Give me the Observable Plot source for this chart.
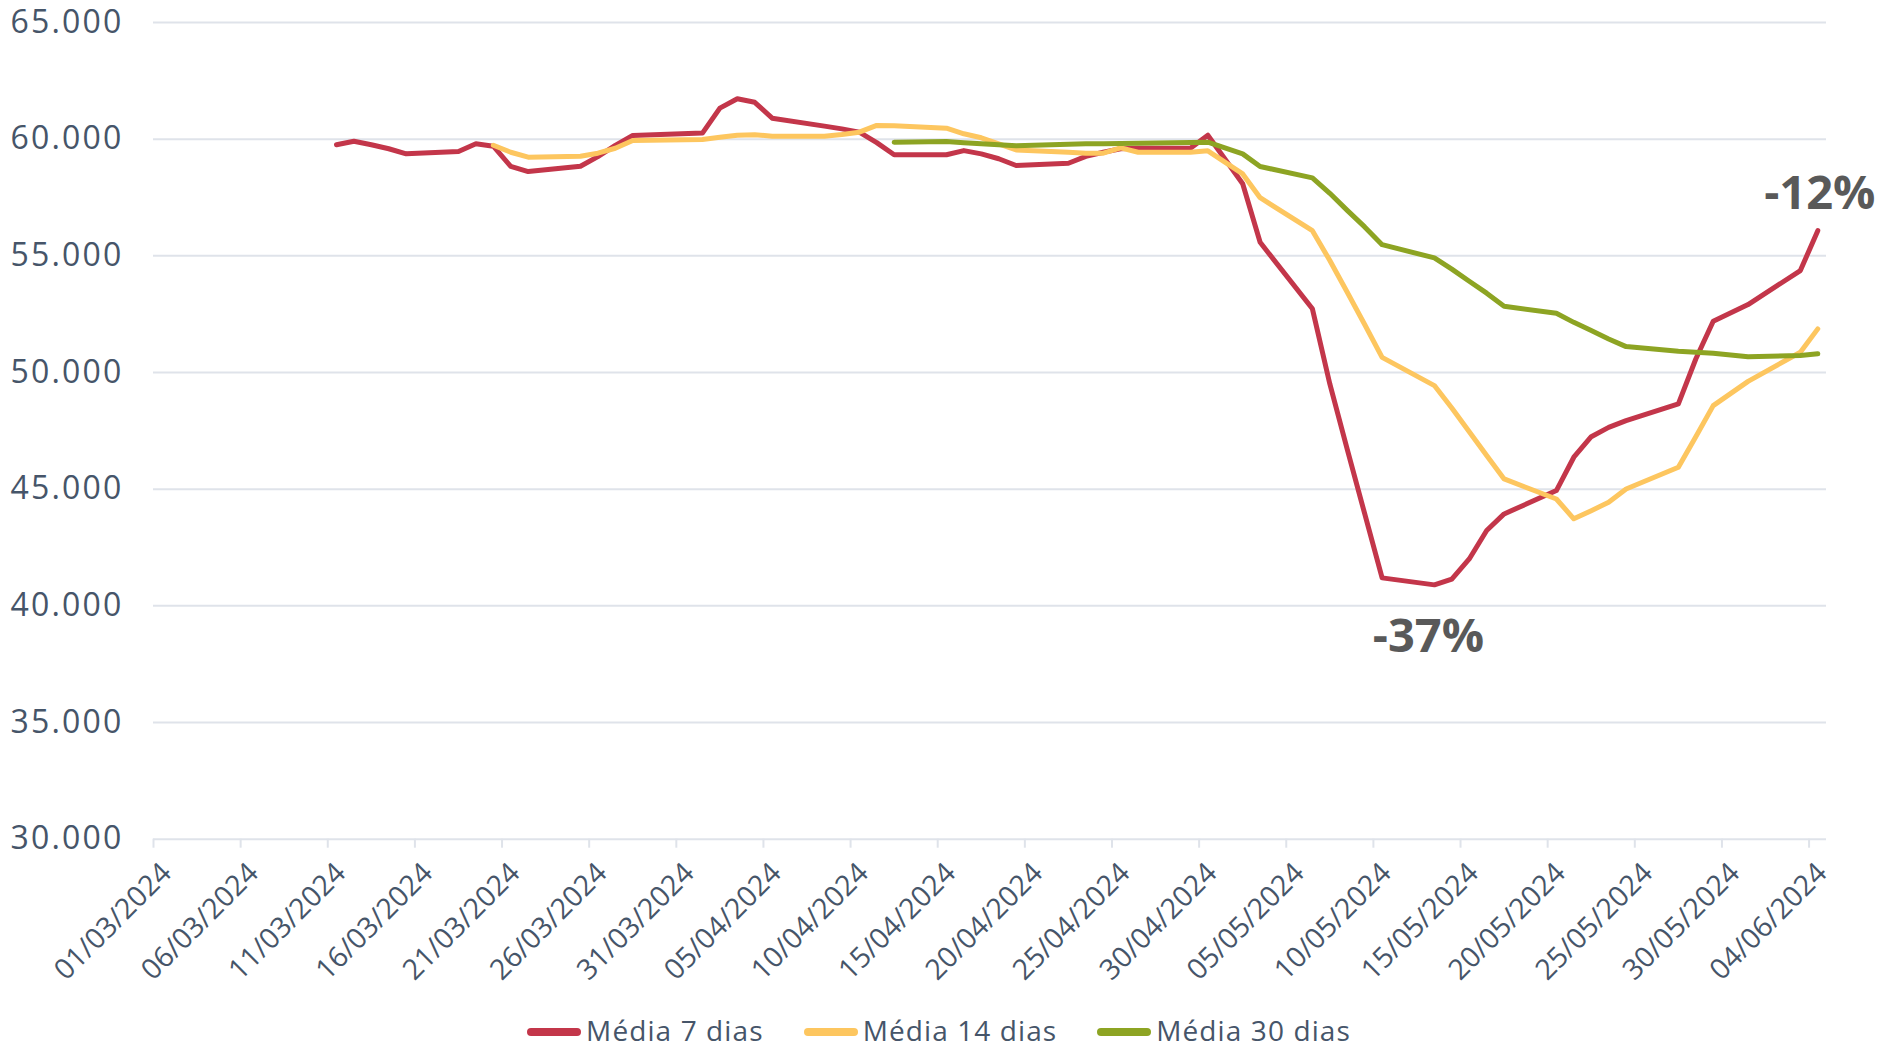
<!DOCTYPE html>
<html>
<head>
<meta charset="utf-8">
<script src="https://cdn.jsdelivr.net/npm/d3@7"></script>
<script src="https://cdn.jsdelivr.net/npm/@observablehq/plot@0.6"></script>
<style>
  html, body { margin: 0; padding: 0; background: #ffffff; }
  #chart { position: absolute; left: 0; top: 0; }
  #chart g[aria-label="y-axis tick label"] text { letter-spacing: 2.2px; }
  #legend {
    position: absolute; left: 0; top: 1011px; width: 1878px; height: 38px;
    display: flex; justify-content: center; align-items: center; gap: 40px;
    font-family: "Open Sans", sans-serif; font-size: 28px; line-height: 38px;
    letter-spacing: 1.1px; color: #465569;
  }
  .item { display: flex; align-items: center; height: 38px; }
  .sw { width: 54px; height: 8px; border-radius: 4px; margin-right: 5px; margin-top: 4px; }
</style>
</head>
<body>
<div id="chart"></div>
<div id="legend"></div>
<script>
// ---- data (business days) ----
const dates = [
  "11/03/2024","12/03/2024","13/03/2024","14/03/2024","15/03/2024",
  "18/03/2024","19/03/2024","20/03/2024","21/03/2024","22/03/2024",
  "25/03/2024","26/03/2024","27/03/2024","28/03/2024",
  "01/04/2024","02/04/2024","03/04/2024","04/04/2024","05/04/2024",
  "08/04/2024","09/04/2024","10/04/2024","11/04/2024","12/04/2024",
  "15/04/2024","16/04/2024","17/04/2024","18/04/2024","19/04/2024",
  "22/04/2024","23/04/2024","24/04/2024","25/04/2024","26/04/2024",
  "29/04/2024","30/04/2024","02/05/2024","03/05/2024",
  "06/05/2024","07/05/2024","08/05/2024","09/05/2024","10/05/2024",
  "13/05/2024","14/05/2024","15/05/2024","16/05/2024","17/05/2024",
  "20/05/2024","21/05/2024","22/05/2024","23/05/2024","24/05/2024",
  "27/05/2024","28/05/2024","29/05/2024","31/05/2024",
  "03/06/2024","04/06/2024"
];
const media7 = [
  59760,59910,59760,59590,59370,
  59470,59800,59700,58830,58610,
  58840,59250,59730,60160,
  60260,61330,61730,61580,60900,
  60560,60440,60300,59850,59330,
  59330,59510,59370,59160,58870,
  58970,59260,59440,59590,59610,
  59610,60170,58090,55580,
  52730,49510,46710,43950,41200,
  40900,41150,42010,43230,43940,
  44940,46370,47250,47650,47940,
  48660,50580,52200,52910,
  54370,56080
];
const media14 = [
  null,null,null,null,null,
  null,null,59740,59440,59230,
  59270,59400,59610,59940,
  59990,60080,60170,60190,60130,
  60130,60200,60300,60590,60570,
  60470,60230,60060,59800,59540,
  59440,59400,59400,59630,59440,
  59440,59500,58510,57490,
  56080,54800,53440,52060,50650,
  49440,48480,47460,46440,45440,
  44580,43730,44080,44440,45010,
  45940,47250,48580,49620,
  50870,51870
];
const media30 = [
  null,null,null,null,null,
  null,null,null,null,null,
  null,null,null,null,
  null,null,null,null,null,
  null,null,null,null,59870,
  59900,59850,59800,59760,59720,
  59780,59800,59800,59810,59820,
  59860,59870,59370,58830,
  58340,57680,56950,56240,55480,
  54910,54430,53910,53400,52840,
  52540,52150,51800,51440,51110,
  50910,50870,50830,50680,
  50730,50800
];
const seriesNames = ["Média 7 dias", "Média 14 dias", "Média 30 dias"];
const seriesColors = ["#C3364A", "#FDC65F", "#8DA423"];
const tickDates = [
  "01/03/2024","06/03/2024","11/03/2024","16/03/2024","21/03/2024",
  "26/03/2024","31/03/2024","05/04/2024","10/04/2024","15/04/2024",
  "20/04/2024","25/04/2024","30/04/2024","05/05/2024","10/05/2024",
  "15/05/2024","20/05/2024","25/05/2024","30/05/2024","04/06/2024"
];
const yTicks = [30000, 35000, 40000, 45000, 50000, 55000, 60000, 65000];
const xDomainDates = ["01/03/2024", "05/06/2024"];
const annotations = [
  {date: "13/05/2024", label: "-37%"},
  {date: "04/06/2024", label: "-12%"}
];

// ---- build ----
const parse = d3.utcParse("%d/%m/%Y");
const center = s => new Date(+parse(s) + 12 * 3600 * 1000);
const seriesValues = [media7, media14, media30];
const rows = [];
seriesNames.forEach((name, k) => {
  dates.forEach((d, i) => {
    const v = seriesValues[k][i];
    if (v != null) rows.push({date: center(d), value: v, serie: name});
  });
});
const annRows = annotations.map(a => ({
  date: center(a.date),
  value: media7[dates.indexOf(a.date)],
  label: a.label
}));

const ptBR = d3.formatLocale({decimal: ",", thousands: ".", grouping: [3], currency: ["R$", ""]});
const yFmt = ptBR.format(",.0f");
const xFmt = d3.utcFormat("%d/%m/%Y");
const tickObjs = tickDates.map(parse);

const textColor = "#465569";
const gridColor = "#dfe3ea";

const chart = Plot.plot({
  width: 1878,
  height: 1000,
  marginTop: 22,
  marginBottom: 161.3,
  marginLeft: 153,
  marginRight: 52,
  style: {fontFamily: "'Open Sans', sans-serif", fontSize: "28px", color: textColor, background: "#ffffff"},
  x: {type: "utc", domain: xDomainDates.map(parse)},
  y: {domain: [yTicks[0], yTicks[yTicks.length - 1]]},
  color: {domain: seriesNames, range: seriesColors},
  marks: [
    Plot.gridY(yTicks, {stroke: gridColor, strokeOpacity: 1, strokeWidth: 2}),
    Plot.axisY({ticks: yTicks, tickFormat: yFmt, tickSize: 0, tickPadding: 30, label: null, fill: textColor, fontSize: 32}),
    Plot.axisX({ticks: tickObjs, tickSize: 9, fill: "none", stroke: gridColor, strokeWidth: 2, label: null}),
    Plot.axisX({ticks: tickObjs, tickFormat: xFmt, tickSize: 9, tickPadding: 20, tickRotate: -45, stroke: "none", fill: textColor, fontSize: 28.5, dx: 13, label: null}),
    Plot.lineY(rows, {x: "date", y: "value", z: "serie", stroke: "serie", strokeWidth: 5, strokeLinejoin: "round", strokeLinecap: "round"}),
    Plot.text(annRows.slice(0, 1), {x: "date", y: "value", text: "label", dy: 52, dx: -6, fontSize: 47, fontWeight: 700, fill: "#595959", lineAnchor: "middle"}),
    Plot.text(annRows.slice(1), {x: "date", y: "value", text: "label", dy: -37, dx: 2, fontSize: 47, fontWeight: 700, fill: "#595959", lineAnchor: "middle"})
  ]
});
document.getElementById("chart").appendChild(chart);

const legend = document.getElementById("legend");
seriesNames.forEach((name, k) => {
  const item = document.createElement("div");
  item.className = "item";
  const sw = document.createElement("span");
  sw.className = "sw";
  sw.style.background = seriesColors[k];
  const tx = document.createElement("span");
  tx.textContent = name;
  item.appendChild(sw);
  item.appendChild(tx);
  legend.appendChild(item);
});
</script>
</body>
</html>
